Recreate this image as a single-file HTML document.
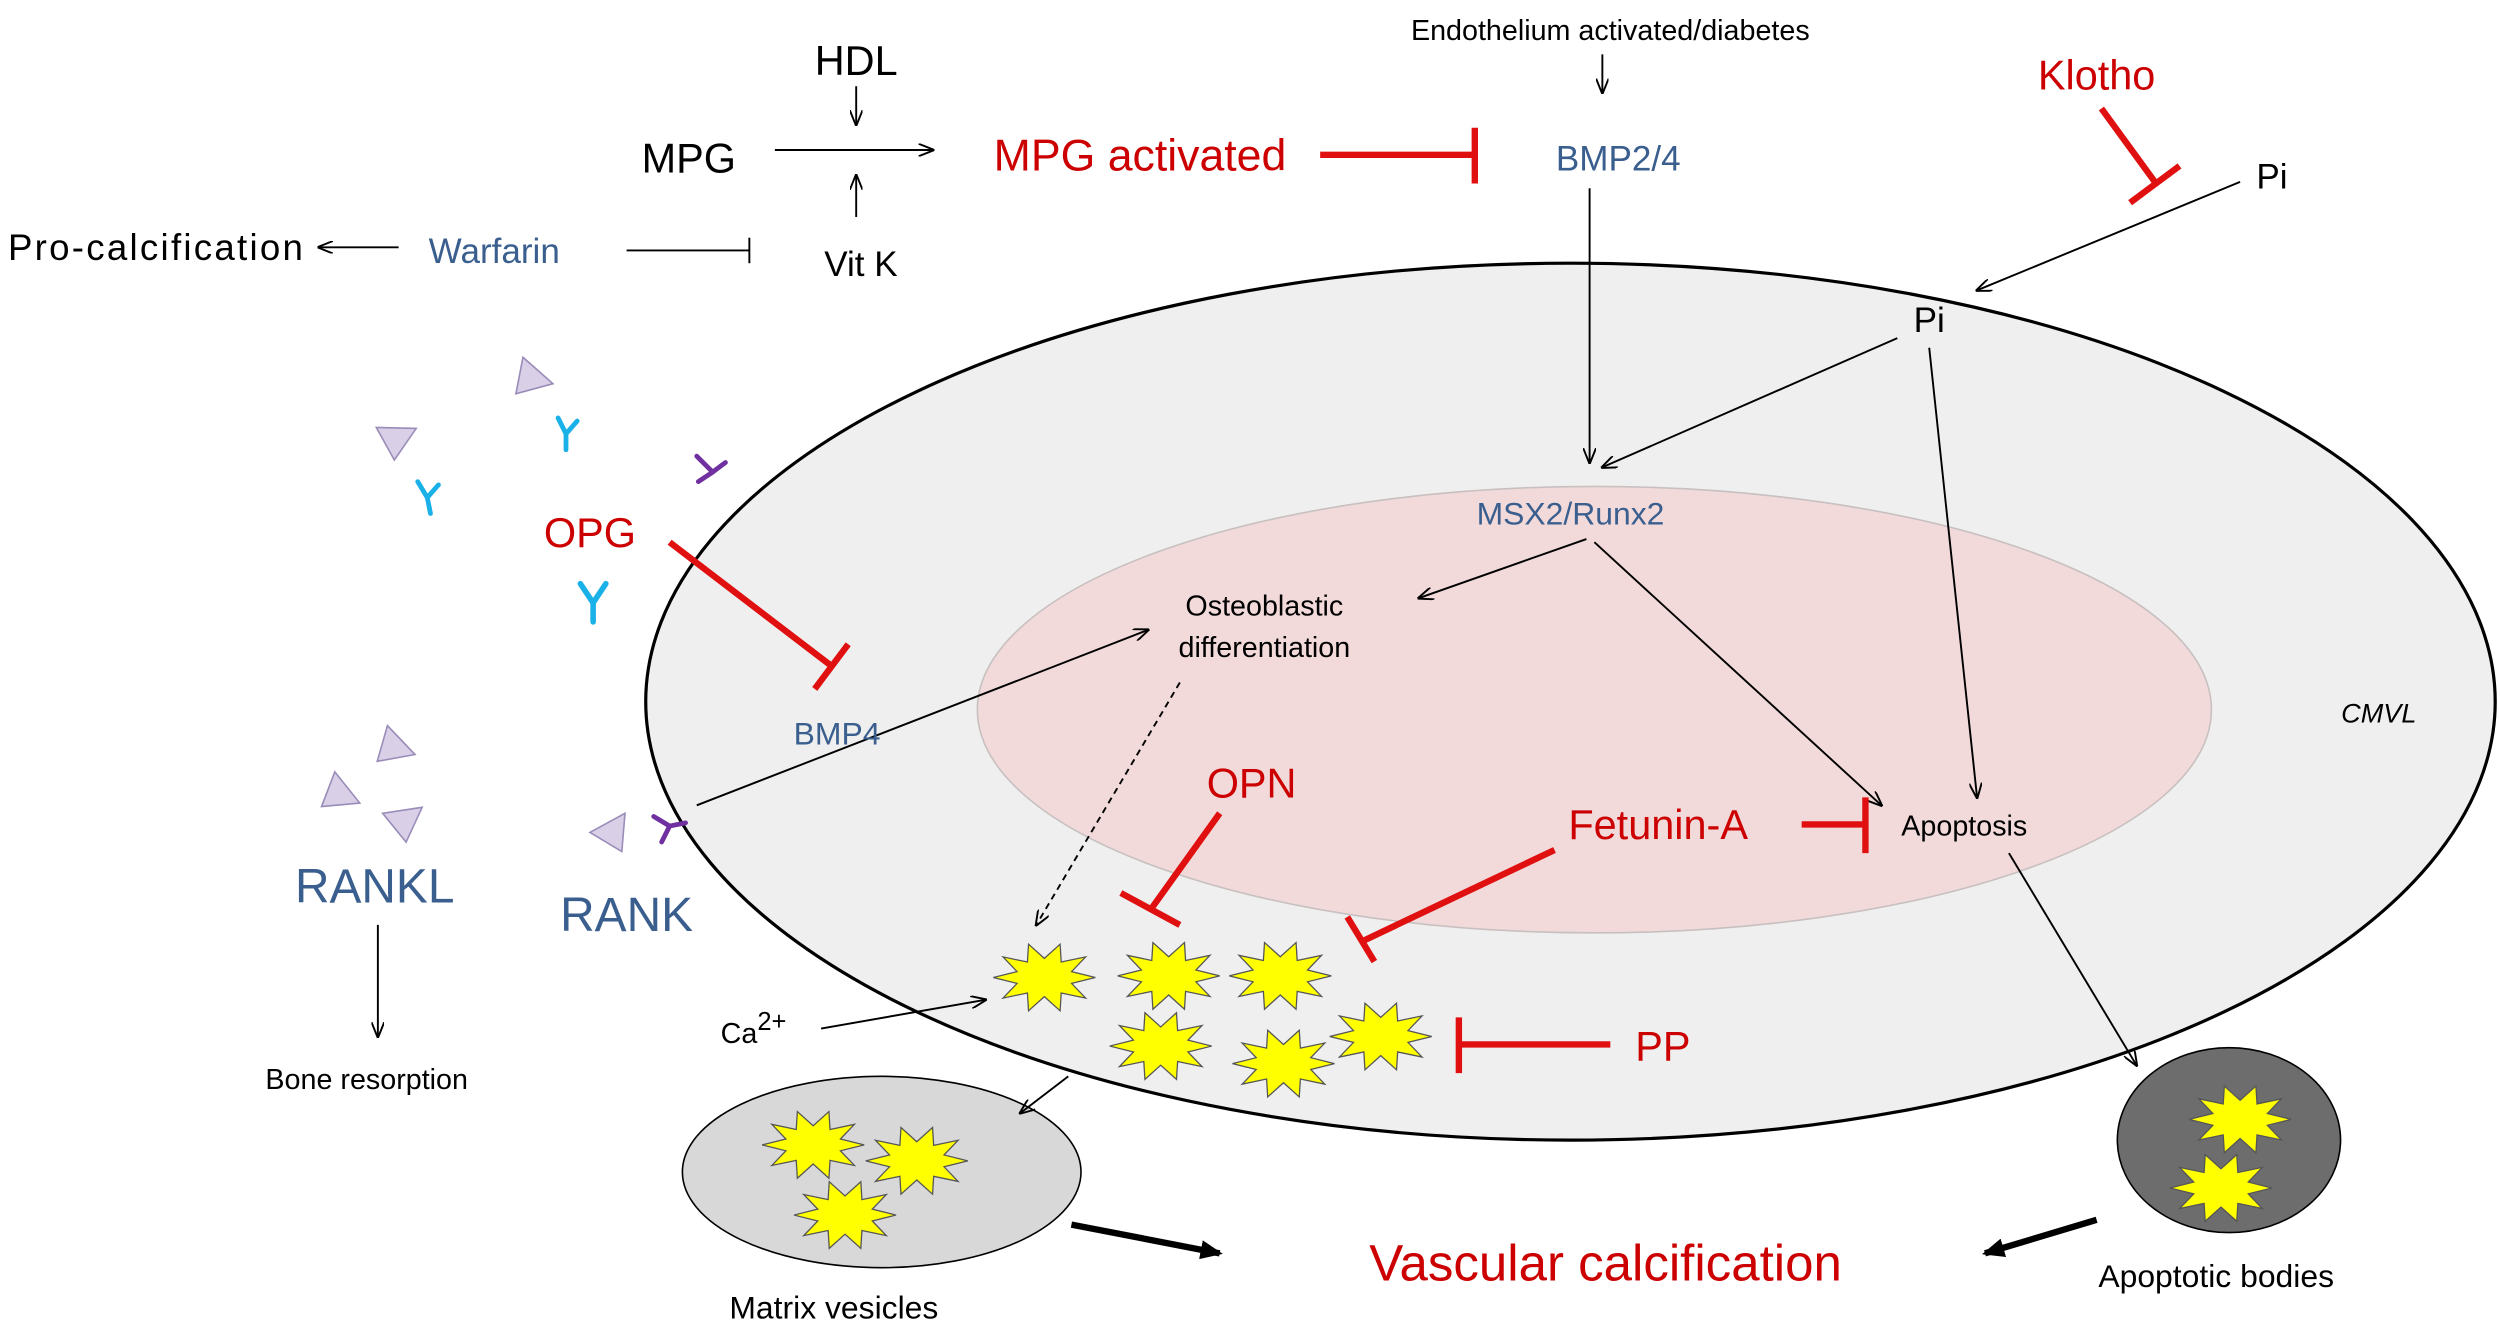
<!DOCTYPE html>
<html><head><meta charset="utf-8"><style>
html,body{margin:0;padding:0;background:#fff;}
svg{display:block;}
text{font-family:"Liberation Sans",Arial,sans-serif;}
</style></head><body>
<svg width="2500" height="1330" viewBox="0 0 1568 834" xmlns="http://www.w3.org/2000/svg">
<defs>
<marker id="a" markerWidth="10" markerHeight="8" refX="9" refY="4" orient="auto" markerUnits="userSpaceOnUse"><path d="M0,0 L10,4 L0,8" fill="none" stroke="#000" stroke-width="1.2"/></marker>
<marker id="ab" markerWidth="14" markerHeight="12" refX="12" refY="6" orient="auto" markerUnits="userSpaceOnUse"><path d="M0,0 L14,6 L0,12 Z" fill="#000"/></marker>
<polygon id="st" points="32,0 17.1,3.7 25.9,12.9 10.6,9.7 9.9,20.9 0,12 -9.9,20.9 -10.6,9.7 -25.9,12.9 -17.1,3.7 -32,0 -17.1,-3.7 -25.9,-12.9 -10.6,-9.7 -9.9,-20.9 0,-12 9.9,-20.9 10.6,-9.7 25.9,-12.9 17.1,-3.7" fill="#ffff00" stroke="#555" stroke-width="0.8"/>
<polygon id="tri" points="0,0 22,-12 20,12" fill="#d9d0e8" stroke="#9a8cb8" stroke-width="1"/>
</defs>

<ellipse cx="985" cy="440" rx="580" ry="275" fill="#efefef" stroke="#000" stroke-width="2"/>
<ellipse cx="1000" cy="445" rx="387" ry="140" fill="#f2dada" stroke="#c8c0c0" stroke-width="1"/>

<g font-size="26" fill="#000">
<text x="537" y="47" text-anchor="middle">HDL</text>
<text x="432" y="108" text-anchor="middle">MPG</text>
</g>
<g stroke="#000" stroke-width="1.2" fill="none" marker-end="url(#a)">
<line x1="486" y1="94" x2="585" y2="94"/>
<line x1="537" y1="54" x2="537" y2="78"/>
<line x1="537" y1="136" x2="537" y2="110"/>
<line x1="1005" y1="34" x2="1005" y2="58"/>
<line x1="250" y1="155" x2="200" y2="155"/>
<line x1="1405" y1="114" x2="1240" y2="182"/>
<line x1="997" y1="118" x2="997" y2="290"/>
<line x1="1190" y1="212" x2="1005" y2="293"/>
<line x1="1210" y1="218" x2="1240" y2="500"/>
<line x1="995" y1="338" x2="890" y2="375"/>
<line x1="1000" y1="340" x2="1180" y2="505"/>
<line x1="437" y1="505" x2="720" y2="395"/>
<line x1="515" y1="645" x2="618" y2="627"/>
<line x1="1260" y1="535" x2="1340" y2="668"/>
<line x1="237" y1="580" x2="237" y2="650"/>
<line x1="740" y1="428" x2="650" y2="580" stroke-dasharray="4,3"/>
</g>
<line x1="393" y1="157" x2="470" y2="157" stroke="#000" stroke-width="1.2"/>
<line x1="470" y1="149" x2="470" y2="165" stroke="#000" stroke-width="1.2"/>

<g stroke="#000" stroke-width="4" marker-end="url(#ab)">
<line x1="672" y1="768" x2="765" y2="786"/>
<line x1="1315" y1="765" x2="1245" y2="786"/>
</g>

<g stroke="#e01010" stroke-width="4" fill="none">
<line x1="828" y1="97" x2="925" y2="97"/><line x1="925" y1="80" x2="925" y2="115"/>
<line x1="1318" y1="68" x2="1353" y2="116"/><line x1="1336" y1="127" x2="1367" y2="104"/>
<line x1="420" y1="340" x2="522" y2="418"/><line x1="511" y1="432" x2="532" y2="404"/>
<line x1="765" y1="510" x2="722" y2="570"/><line x1="703" y1="560" x2="740" y2="580"/>
<line x1="975" y1="533" x2="855" y2="590"/><line x1="845" y1="575" x2="862" y2="603"/>
<line x1="1130" y1="517" x2="1170" y2="517"/><line x1="1170" y1="500" x2="1170" y2="535"/>
<line x1="1010" y1="655" x2="915" y2="655"/><line x1="915" y1="638" x2="915" y2="673"/>
</g>

<g fill="#cc0000">
<text x="715" y="107" font-size="28" text-anchor="middle">MPG activated</text>
<text x="1315" y="56" font-size="26" text-anchor="middle">Klotho</text>
<text x="370" y="343" font-size="26" text-anchor="middle">OPG</text>
<text x="785" y="500" font-size="26" text-anchor="middle">OPN</text>
<text x="1040" y="526" font-size="26" text-anchor="middle">Fetunin-A</text>
<text x="1043" y="665" font-size="26" text-anchor="middle">PP</text>
<text x="1007" y="803" font-size="32" text-anchor="middle">Vascular calcification</text>
</g>
<g fill="#3a5f8f">
<text x="1015" y="107" font-size="22" text-anchor="middle">BMP2/4</text>
<text x="310" y="165" font-size="22" text-anchor="middle">Warfarin</text>
<text x="985" y="329" font-size="20" text-anchor="middle">MSX2/Runx2</text>
<text x="525" y="467" font-size="20" text-anchor="middle">BMP4</text>
<text x="235" y="566" font-size="30" text-anchor="middle">RANKL</text>
<text x="393" y="584" font-size="30" text-anchor="middle">RANK</text>
</g>
<g fill="#000">
<text x="1010" y="25" font-size="18" text-anchor="middle">Endothelium activated/diabetes</text>
<text x="540" y="173" font-size="22" text-anchor="middle">Vit K</text>
<text x="5" y="163" font-size="23" textLength="185">Pro-calcification</text>
<text x="1425" y="118" font-size="22" text-anchor="middle">Pi</text>
<text x="1210" y="208" font-size="22" text-anchor="middle">Pi</text>
<text x="793" y="386" font-size="18" text-anchor="middle">Osteoblastic</text>
<text x="793" y="412" font-size="18" text-anchor="middle">differentiation</text>
<text x="1492" y="453" font-size="17" font-style="italic" text-anchor="middle">CMVL</text>
<text x="1232" y="524" font-size="18" text-anchor="middle">Apoptosis</text>
<text x="452" y="654" font-size="18">Ca<tspan dy="-8" font-size="16">2+</tspan></text>
<text x="230" y="683" font-size="18" text-anchor="middle">Bone resorption</text>
<text x="523" y="827" font-size="20" text-anchor="middle">Matrix vesicles</text>
<text x="1390" y="807" font-size="20" text-anchor="middle">Apoptotic bodies</text>
</g>

<ellipse cx="553" cy="735" rx="125" ry="60" fill="#d8d8d8" stroke="#000" stroke-width="1"/>
<ellipse cx="1398" cy="715" rx="70" ry="58" fill="#6d6d6d" stroke="#000" stroke-width="1"/>
<line x1="670" y1="675" x2="640" y2="698" stroke="#000" stroke-width="1.2" marker-end="url(#a)"/>

<use href="#st" x="655" y="613"/>
<use href="#st" x="733" y="612"/>
<use href="#st" x="803" y="612"/>
<use href="#st" x="728" y="656"/>
<use href="#st" x="805" y="667"/>
<use href="#st" x="866" y="650"/>
<use href="#st" x="510" y="718"/>
<use href="#st" x="575" y="728"/>
<use href="#st" x="530" y="762"/>
<use href="#st" x="1405" y="702"/>
<use href="#st" x="1393" y="745"/>

<g fill="none" stroke-width="3" stroke-linecap="round">
<path d="M350,262 L355,272 L362,264 M355,272 L355,282" stroke="#1ab0e8"/>
<path d="M262,302 L268,312 L275,304 M268,312 L270,322" stroke="#1ab0e8"/>
<path d="M364,366 L372,378 L380,366 M372,378 L372,390" stroke="#1ab0e8" stroke-width="3.5"/>
<path d="M437,286 L447,296 L455,290 M447,296 L438,302" stroke="#7030a0"/>
<path d="M410,512 L420,518 L415,528 M420,518 L430,516" stroke="#7030a0"/>
</g>
<use href="#tri" transform="translate(328,224) rotate(70)"/>
<use href="#tri" transform="translate(236,268) rotate(30)"/>
<use href="#tri" transform="translate(243,455) rotate(75)"/>
<use href="#tri" transform="translate(210,484) rotate(80)"/>
<use href="#tri" transform="translate(240,510) rotate(20)"/>
<use href="#tri" transform="translate(370,522) rotate(0)"/>
</svg>
</body></html>
